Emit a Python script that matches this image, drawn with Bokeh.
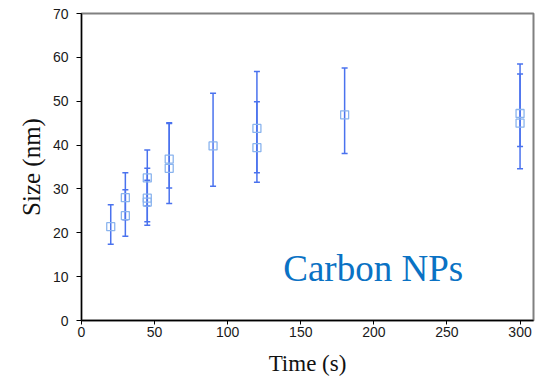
from bokeh.plotting import figure
from bokeh.models import ColumnDataSource, Whisker, TeeHead, Range1d, FixedTicker
from bokeh.core.properties import value
from bokeh.embed import file_html
from bokeh.resources import INLINE

# data
time_s = [20, 30, 30, 45, 45, 45, 60, 60, 90, 120, 120, 180, 300, 300]
size_nm = [21.4, 28.0, 23.9, 32.5, 27.9, 27.0, 36.8, 34.7, 39.8, 43.8, 39.4, 46.9, 47.2, 45.0]
size_low = [17.4, 23.0, 19.2, 26.1, 21.7, 22.5, 30.2, 26.7, 30.6, 31.5, 33.7, 38.1, 34.6, 39.7]
size_high = [26.4, 33.7, 29.8, 38.9, 34.7, 32.0, 45.1, 44.9, 51.8, 56.8, 49.9, 57.6, 58.5, 56.2]
x_ticks = [0, 50, 100, 150, 200, 250, 300]
y_ticks = [0, 10, 20, 30, 40, 50, 60, 70]
annotation = ["Carbon NPs"]

SERIF = "Times New Roman"
SANS = "Arial"

src = ColumnDataSource(dict(x=time_s, y=size_nm, lo=size_low, hi=size_high))

p = figure(width=535, height=380, output_backend="svg", toolbar_location=None,
           x_range=Range1d(0, 309.2), y_range=Range1d(0, 70),
           min_border_left=81, min_border_right=2, min_border_top=13, min_border_bottom=60)
p.grid.visible = False
p.background_fill_color = "white"
p.border_fill_color = "white"
p.outline_line_color = "#808080"
p.outline_line_width = 2

bar_col = "#4a72ee"
w = Whisker(source=src, base="x", lower="lo", upper="hi", line_color=bar_col, line_width=1.5,
            upper_head=TeeHead(size=6, line_color=bar_col, line_width=1.5),
            lower_head=TeeHead(size=6, line_color=bar_col, line_width=1.5))
p.add_layout(w)

p.scatter("x", "y", source=src, marker="square", size=8, fill_color=None,
          line_color="#8ab4ee", line_width=1.3)

for ax, ticks in ((p.xaxis, x_ticks), (p.yaxis, y_ticks)):
    ax.ticker = FixedTicker(ticks=ticks)
    ax.axis_line_color = "black"
    ax.axis_line_width = 1.3
    ax.major_tick_line_color = "black"
    ax.major_tick_out = 5
    ax.major_tick_in = 0
    ax.minor_tick_line_color = None
    ax.major_label_text_font = SANS
    ax.major_label_text_font_size = "14px"
    ax.major_label_text_color = "#1a1a1a"
    ax.axis_label_text_font = SERIF
    ax.axis_label_text_font_style = "normal"
    ax.axis_label_text_color = "#111111"

p.xaxis.axis_label = "Time (s)"
p.xaxis.axis_label_text_font_size = "23px"
p.xaxis.major_label_standoff = 2
p.xaxis.axis_label_standoff = 11
p.xaxis.major_tick_out = 4

p.yaxis.axis_label = "Size (nm)"
p.yaxis.axis_label_text_font_size = "25px"
p.yaxis.major_label_standoff = 8
p.yaxis.axis_label_standoff = 5

p.text(x=[138], y=[11.8], text=annotation, text_font=value(SERIF),
       text_font_size="37px", text_font_style="normal", text_color="#0a72c4",
       text_baseline="alphabetic", text_align="left")

open("out.html", "w").write(file_html(p, INLINE))
